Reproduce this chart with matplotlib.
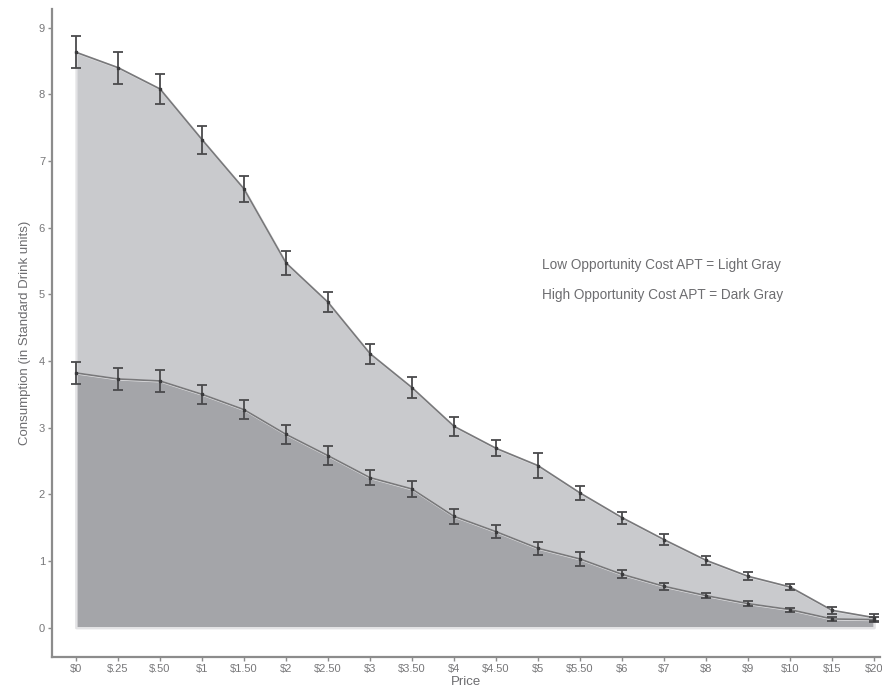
import numpy as np
import matplotlib
matplotlib.use("Agg")
import matplotlib.pyplot as plt

plt.rcParams['font.family'] = ['Liberation Sans', 'DejaVu Sans']

prices = ["$0", "$.25", "$.50", "$1", "$1.50", "$2", "$2.50", "$3", "$3.50", "$4",
          "$4.50", "$5", "$5.50", "$6", "$7", "$8", "$9", "$10", "$15", "$20"]

# mean consumption, low opportunity cost APT
low_cost = [8.63, 8.40, 8.08, 7.32, 6.58, 5.47, 4.88, 4.11, 3.60, 3.02,
            2.69, 2.43, 2.02, 1.65, 1.32, 1.01, 0.77, 0.61, 0.26, 0.15]
low_cost_se = [0.24, 0.24, 0.22, 0.21, 0.19, 0.18, 0.15, 0.15, 0.16, 0.14,
               0.12, 0.19, 0.11, 0.09, 0.08, 0.07, 0.06, 0.05, 0.05, 0.05]

# mean consumption, high opportunity cost APT
high_cost = [3.82, 3.73, 3.70, 3.50, 3.27, 2.90, 2.58, 2.25, 2.08, 1.67,
             1.44, 1.19, 1.03, 0.80, 0.62, 0.48, 0.36, 0.27, 0.13, 0.12]
high_cost_se = [0.16, 0.16, 0.16, 0.14, 0.14, 0.14, 0.14, 0.11, 0.12, 0.11,
                0.10, 0.10, 0.10, 0.06, 0.05, 0.04, 0.04, 0.03, 0.03, 0.04]

y_ticks = [0, 1, 2, 3, 4, 5, 6, 7, 8, 9]


def draw_series(ax, x, y, err, fill_color):
    ax.fill_between(x, 0, y, facecolor=fill_color, edgecolor='#e3e3e5',
                    linewidth=1.6, zorder=1)
    ax.plot(x, y, color='#78787a', linewidth=1.2, zorder=3)
    ax.errorbar(x, y, yerr=err, fmt='s', markersize=2, color='#3a3a3c',
                ecolor='#4a4a4c', elinewidth=1.3, capsize=3.5, capthick=1.3,
                zorder=4)


def main():
    fig = plt.figure(figsize=(8.82, 6.89), dpi=100)
    ax = fig.add_axes([0.059, 0.047, 0.939, 0.94])

    x = np.arange(len(prices))
    draw_series(ax, x, low_cost, low_cost_se, '#c9cacd')
    draw_series(ax, x, high_cost, high_cost_se, '#a4a5a9')

    ax.text(11.1, 5.44, "Low Opportunity Cost APT = Light Gray",
            fontsize=9.8, color='#6d6d70', va='center', ha='left')
    ax.text(11.1, 4.99, "High Opportunity Cost APT = Dark Gray",
            fontsize=9.8, color='#6d6d70', va='center', ha='left')

    ax.set_xlim(-0.57, 19.15)
    ax.set_ylim(-0.435, 9.28)
    ax.set_xticks(x)
    ax.set_xticklabels(prices)
    ax.set_yticks(y_ticks)

    for side in ['top', 'right']:
        ax.spines[side].set_visible(False)
    for side in ['left', 'bottom']:
        ax.spines[side].set_color('#8c8c8c')
        ax.spines[side].set_linewidth(1.6)
    ax.tick_params(colors='#8c8c8c', labelcolor='#777779', labelsize=8,
                   length=3, width=1, pad=2)

    ax.set_xlabel("Price", fontsize=9.5, color='#6d6d70', labelpad=2)
    ax.set_ylabel("Consumption (in Standard Drink units)", fontsize=9.5,
                  color='#6d6d70', labelpad=6)

    fig.savefig("out.png", dpi=100)
    plt.close(fig)


if __name__ == "__main__":
    main()
